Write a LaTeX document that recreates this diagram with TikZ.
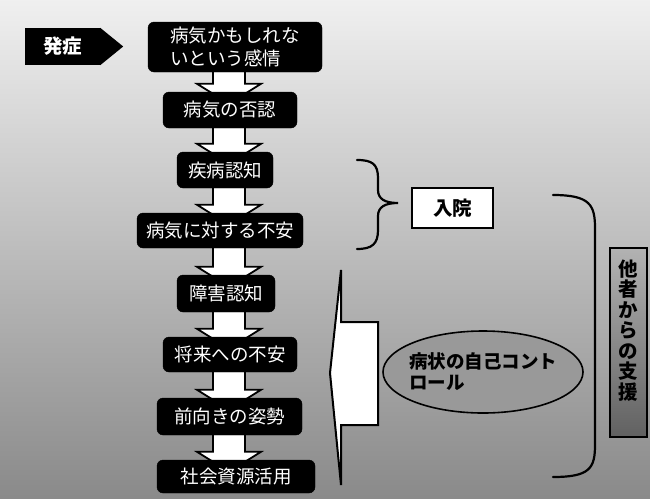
\documentclass[tikz,border=0pt]{standalone}
\usepackage{fontspec}
\setmainfont{Noto Sans CJK JP}
\usetikzlibrary{calc,shapes.geometric}
\pgfdeclarelayer{bglayer}
\pgfdeclarelayer{arrowlayer}
\pgfsetlayers{bglayer,arrowlayer,main}
\newcommand{\flowarrow}[2]{%
  \begin{pgfonlayer}{arrowlayer}
  \draw[blockarr]
    ($(#1.south -| ax)+(-16,-2)$) -- ($(#2.north -| ax)+(-16,-8)$)
    -- ($(#2.north -| ax)+(-32,-8)$) -- ($(#2.north -| ax)+(0,12)$)
    -- ($(#2.north -| ax)+(32,-8)$) -- ($(#2.north -| ax)+(16,-8)$)
    -- ($(#1.south -| ax)+(16,-2)$);
  \end{pgfonlayer}}
\begin{document}
\begin{tikzpicture}[x=1pt,y=-1pt,
  stepbox/.style={draw=black, fill=black, text=white, rounded corners=6pt,
    inner sep=0pt, font=\fontsize{18.5}{23}\selectfont},
  blockarr/.style={draw=black, line width=1.8pt, fill=white, line join=miter},
  boldtext/.style={font=\fontsize{19.5}{22}\selectfont\bfseries},
  bracket/.style={draw=black, line width=2.2pt, line cap=round}]
\useasboundingbox (0,0) rectangle (650,498);
\begin{pgfonlayer}{bglayer}
\shade[top color=black!6, middle color=black!30, bottom color=black!46] (0,0) rectangle (650,498);
\end{pgfonlayer}
\coordinate (ax) at (229,0);

% onset
\node[fill=black, text=white, minimum width=75, minimum height=37, inner sep=0pt, boldtext] (onset) at (62.5,46.5) {発症};
\fill[black] (onset.north east) -- ($(onset.east)+(23,0)$) -- (onset.south east) -- cycle;

% flow boxes
\node[stepbox, minimum width=174, minimum height=50, align=left] (b1) at (235,47) {病気かもしれな\\いという感情};
\node[stepbox, minimum width=134, minimum height=36] (b2) at (230,110) {病気の否認};
\node[stepbox, minimum width=96, minimum height=36] (b3) at (225,170) {疾病認知};
\node[stepbox, minimum width=166, minimum height=35] (b4) at (220,230.5) {病気に対する不安};
\node[stepbox, minimum width=98, minimum height=37] (b5) at (226,293.5) {障害認知};
\node[stepbox, minimum width=134, minimum height=35] (b6) at (230,354.5) {将来への不安};
\node[stepbox, minimum width=145, minimum height=37] (b7) at (229.5,416.5) {前向きの姿勢};
\node[stepbox, minimum width=158, minimum height=33] (b8) at (236,476.5) {社会資源活用};

\flowarrow{b1}{b2}
\flowarrow{b2}{b3}
\flowarrow{b3}{b4}
\flowarrow{b4}{b5}
\flowarrow{b5}{b6}
\flowarrow{b6}{b7}
\flowarrow{b7}{b8}

% brace for hospitalization
\draw[bracket] (357,160) .. controls (372,160) and (378,164) .. (378,178)
  -- (378,190) .. controls (378,199) and (385,203) .. (398,203)
  .. controls (385,203) and (378,207) .. (378,216)
  -- (378,230) .. controls (378,244) and (372,249) .. (357,249);
\node[draw=black, line width=1.6pt, fill=white, minimum width=81, minimum height=40, inner sep=0pt, boldtext] (hosp) at (452.5,208) {入院};

% left block shape
\draw[draw=black, line width=2pt, fill=white, line join=miter]
  (341,270) -- (341,322) -- (378,322) -- (378,425) -- (341,425) -- (341,485)
  -- (330,373) -- cycle;

% ellipse
\node[ellipse, draw=black, line width=1.6pt, fill=black!40, minimum width=200, minimum height=82, inner sep=0pt,
  label={[align=left, font=\fontsize{18.5}{21}\selectfont\bfseries]center:病状の自己コント\\ロール}] (selfctl) at (483,372) {};

% big right bracket
\draw[bracket] (553,195) .. controls (590,195) and (595,205) .. (595,228)
  -- (595,445) .. controls (595,468) and (590,477) .. (553,477);

% support from others
\node[draw=black, line width=1.6pt, top color=black!30, bottom color=black!62, minimum width=37, minimum height=189,
  inner sep=0pt, align=center, font=\fontsize{19.5}{20.5}\selectfont\bfseries, yshift=0pt] (support) at (628.5,342.5)
  {他\\者\\か\\ら\\の\\支\\援\\[6pt]\mbox{}};
\end{tikzpicture}
\end{document}
